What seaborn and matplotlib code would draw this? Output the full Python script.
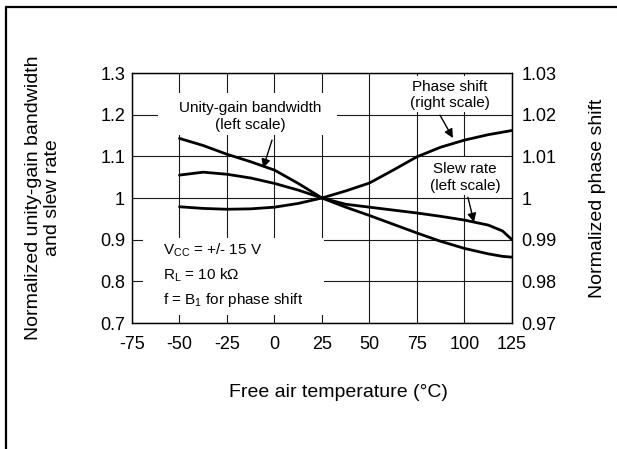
import matplotlib
matplotlib.use("Agg")
import matplotlib.pyplot as plt
from matplotlib.patches import Rectangle
from matplotlib.lines import Line2D
import seaborn as sns

# data (temperature in degC)
temp = [-50, -37.5, -25, -12.5, 0, 12.5, 25, 37.5, 50, 62.5, 75, 87.5, 100, 112.5, 120, 125]
unity_gain = [1.143, 1.126, 1.105, 1.087, 1.067, 1.035, 1.0, 0.978, 0.958, 0.937,
              0.916, 0.896, 0.879, 0.866, 0.860, 0.858]
slew_rate = [1.055, 1.062, 1.057, 1.048, 1.035, 1.019, 1.0, 0.985, 0.978, 0.971,
             0.964, 0.956, 0.947, 0.935, 0.921, 0.900]
phase_shift = [0.9979, 0.9975, 0.9973, 0.9974, 0.9978, 0.9987, 1.0, 1.0017, 1.0036, 1.0067,
               1.0099, 1.0122, 1.0139, 1.0152, 1.0158, 1.0162]

x_ticks = [-75, -50, -25, 0, 25, 50, 75, 100, 125]
left_ticks = [0.7, 0.8, 0.9, 1.0, 1.1, 1.2, 1.3]
left_labels = ["0.7", "0.8", "0.9", "1", "1.1", "1.2", "1.3"]
right_ticks = [0.97, 0.98, 0.99, 1.0, 1.01, 1.02, 1.03]
right_labels = ["0.97", "0.98", "0.99", "1", "1.01", "1.02", "1.03"]

sns.set_theme(style="white")
plt.rcParams["font.family"] = ["Liberation Sans", "DejaVu Sans"]
plt.rcParams["mathtext.fontset"] = "custom"
plt.rcParams["mathtext.rm"] = "Liberation Sans"
plt.rcParams["mathtext.it"] = "Liberation Sans"
plt.rcParams["axes.unicode_minus"] = False

fig = plt.figure(figsize=(6.17, 4.49), dpi=100)
ax = fig.add_axes([0.2139, 0.2806, 0.6159, 0.5568])

ax.set_axisbelow(True)
ax.grid(True, color="#1a1a1a", linewidth=0.8)

# white masks behind the labels (grid is interrupted there)
for (x0, x1, y0, y1) in [(-61.3, 32.9, 1.151, 1.252),
                         (66.0, 118.7, 1.206, 1.293),
                         (77.6, 121.3, 1.007, 1.098),
                         (-69.2, 26.1, 0.7194, 0.905)]:
    ax.add_patch(Rectangle((x0, y0), x1 - x0, y1 - y0, facecolor="white",
                           edgecolor="none", zorder=1))

sns.lineplot(x=temp, y=unity_gain, ax=ax, color="black", linewidth=2.0, zorder=3)
sns.lineplot(x=temp, y=slew_rate, ax=ax, color="black", linewidth=2.0, zorder=3)

ax.set_xlim(-75, 125)
ax.set_ylim(0.7, 1.3)
ax.set_xticks(x_ticks)
ax.set_yticks(left_ticks)
ax.set_yticklabels(left_labels)
ax.tick_params(axis="both", length=0, labelsize=13, colors="black")
ax.tick_params(axis="x", pad=9)
ax.tick_params(axis="y", pad=5)
for s in ax.spines.values():
    s.set_color("black")
    s.set_linewidth(0.9)

ax.set_xlabel("Free air temperature (\u00b0C)", fontsize=14, color="black")
ax.xaxis.set_label_coords(0.542, -0.276)
ax.xaxis.label.set_va("center")
ax.set_ylabel("Normalized unity-gain bandwidth\nand slew rate", fontsize=14,
              color="black", linespacing=1.15)
ax.yaxis.set_label_coords(-0.233, 0.5)
ax.yaxis.label.set_va("center")

ax2 = ax.twinx()
sns.lineplot(x=temp, y=phase_shift, ax=ax2, color="black", linewidth=2.0)
ax2.set_ylim(0.97, 1.03)
ax2.set_yticks(right_ticks)
ax2.set_yticklabels(right_labels)
ax2.tick_params(axis="y", length=0, labelsize=13, colors="black", pad=7)
ax2.set_ylabel("Normalized phase shift", fontsize=14, color="black")
ax2.yaxis.set_label_coords(1.226, 0.5)
ax2.yaxis.label.set_va("center")
for s in ax2.spines.values():
    s.set_color("black")
    s.set_linewidth(0.9)

# labels and arrows (left-scale coordinates)
txt_kw = dict(fontsize=11, color="black", ha="center", va="center",
              linespacing=1.25, zorder=5)
ax.text(-12.9, 1.196, "Unity-gain bandwidth\n(left scale)", **txt_kw)
ax.text(92.4, 1.247, "Phase shift\n(right scale)", **txt_kw)
ax.text(100.3, 1.050, "Slew rate\n(left scale)", **txt_kw)

arrow_kw = dict(arrowstyle="-|>", color="black", lw=1.0, mutation_scale=13,
                shrinkA=0, shrinkB=0)
ax.annotate("", xy=(-6.0, 1.072), xytext=(-1.3, 1.139), arrowprops=arrow_kw, zorder=5)
ax.annotate("", xy=(93.9, 1.144), xytext=(87.1, 1.199), arrowprops=arrow_kw, zorder=5)
ax.annotate("", xy=(105.0, 0.942), xytext=(101.8, 1.002), arrowprops=arrow_kw, zorder=5)

cond_kw = dict(fontsize=11, color="black", ha="left", va="center", zorder=5)
ax.text(-58.7, 0.875, r"V$_{\mathrm{CC}}$ = +/- 15 V", **cond_kw)
ax.text(-58.7, 0.815, "R$_{\\mathrm{L}}$ = 10 k\u03a9", **cond_kw)
ax.text(-58.7, 0.755, r"f = B$_{\mathrm{1}}$ for phase shift", **cond_kw)

# outer frame (top and left edges only)
fig.add_artist(Line2D([5.5 / 617, 1.0], [1 - 6.5 / 449, 1 - 6.5 / 449],
                      transform=fig.transFigure, color="black", linewidth=1.6))
fig.add_artist(Line2D([5.5 / 617, 5.5 / 617], [0.0, 1 - 6.5 / 449],
                      transform=fig.transFigure, color="black", linewidth=1.6))

fig.savefig("out.png", dpi=100)
